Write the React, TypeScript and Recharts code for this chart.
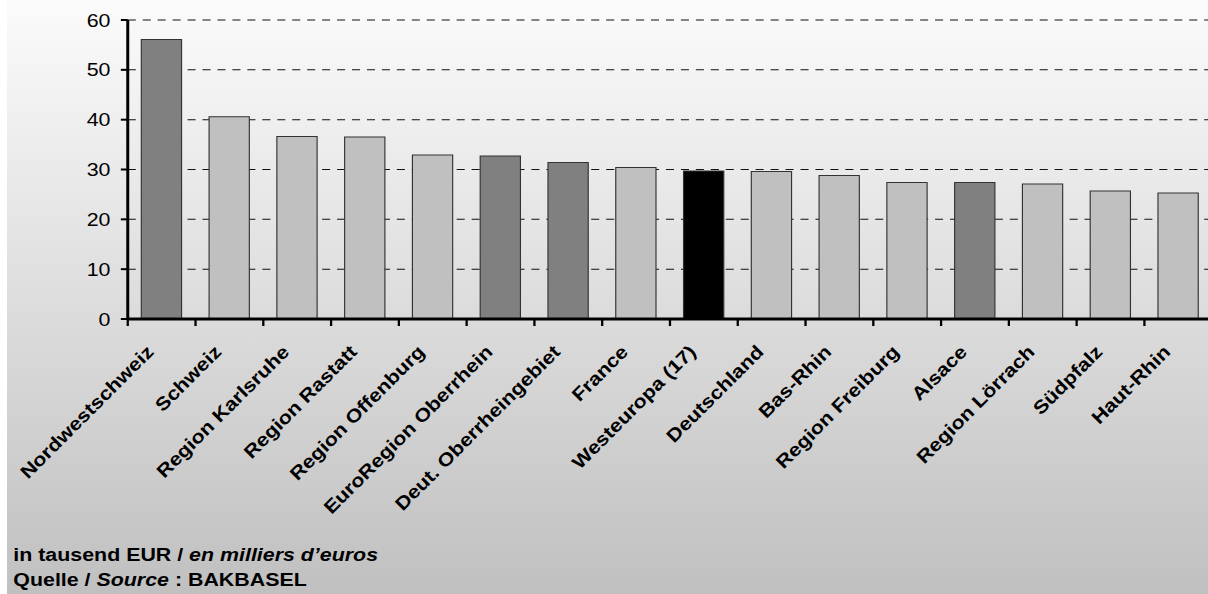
import { Bar, BarChart, CartesianGrid, Cell, XAxis, YAxis } from 'recharts';

const regions = [
  'Nordwestschweiz',
  'Schweiz',
  'Region Karlsruhe',
  'Region Rastatt',
  'Region Offenburg',
  'EuroRegion Oberrhein',
  'Deut. Oberrheingebiet',
  'France',
  'Westeuropa (17)',
  'Deutschland',
  'Bas-Rhin',
  'Region Freiburg',
  'Alsace',
  'Region Lörrach',
  'Südpfalz',
  'Haut-Rhin',
];

// in tausend EUR
const values = [
  56.1, 40.6, 36.6, 36.5, 32.9, 32.7, 31.4, 30.4, 29.7, 29.6, 28.8, 27.4, 27.4,
  27.1, 25.7, 25.3,
];

const aggregateRegions = [
  'Nordwestschweiz',
  'EuroRegion Oberrhein',
  'Deut. Oberrheingebiet',
  'Alsace',
];
const benchmarkRegion = 'Westeuropa (17)';

const yTicks = [0, 10, 20, 30, 40, 50, 60];

const FONT = 'Arial, "Liberation Sans", Helvetica, sans-serif';
const STRETCH = 1.15;
const CHART_W = 1048;
const CHART_H = 594;
const Y_AXIS_W = 105;
const TICK_LEN = 7;
const LABEL_GAP = 27;
const LABEL_SHIFT = -6;

// the whole chart is stretched horizontally; labels must end up at 45° on
// screen, widened along their own baseline
const C45 = Math.SQRT1_2;
const LABEL_MATRIX = [C45, -C45 * STRETCH, C45 / STRETCH, C45, 0, 0].join(' ');

const chartData = regions.map((name, i) => ({ name, value: values[i] }));

const barFill = (name: string) => {
  if (name === benchmarkRegion) return '#000000';
  if (aggregateRegions.includes(name)) return '#808080';
  return '#c0c0c0';
};

type TickProps = {
  x: number;
  y: number;
  payload: { value: string; offset?: number };
};

// category label rotated, with the tick mark on the boundary between bars
const RegionTick = ({ x, y, payload }: TickProps) => {
  const half =
    payload.offset && payload.offset > 0
      ? payload.offset
      : (CHART_W - Y_AXIS_W) / regions.length / 2;
  const axisY = y - TICK_LEN - LABEL_GAP;
  return (
    <g>
      <line
        x1={x - half}
        x2={x - half}
        y1={axisY}
        y2={axisY + TICK_LEN}
        stroke='#000'
        strokeWidth={2}
      />
      <g transform={`translate(${x + LABEL_SHIFT} ${y}) matrix(${LABEL_MATRIX})`}>
        <text
          x={0}
          y={0}
          textAnchor='end'
          fontFamily={FONT}
          fontSize={18.6}
          fontWeight='bold'
          fill='#000'
        >
          {payload.value}
        </text>
      </g>
    </g>
  );
};

export default function App() {
  return (
    <div
      style={{
        position: 'absolute',
        left: 0,
        top: 0,
        width: 1208,
        height: 594,
        overflow: 'hidden',
        background: '#fff',
      }}
    >
      <div
        style={{
          position: 'absolute',
          left: 7,
          top: 0,
          width: CHART_W,
          height: CHART_H,
          transform: `scaleX(${STRETCH})`,
          transformOrigin: '0 0',
          background: 'linear-gradient(#fbfbfb, #c0c0c0)',
        }}
      >
        <BarChart
          width={CHART_W}
          height={CHART_H}
          data={chartData}
          margin={{ top: 20, right: 0, bottom: 245, left: 0 }}
          barCategoryGap='20%'
        >
          <CartesianGrid
            vertical={false}
            strokeDasharray='7 6'
            stroke='#111'
            strokeWidth={1}
          />
          <XAxis
            dataKey='name'
            interval={0}
            height={30}
            tickLine={false}
            tickSize={TICK_LEN}
            tickMargin={LABEL_GAP}
            axisLine={{ stroke: '#000', strokeWidth: 3 }}
            tick={(props: TickProps) => <RegionTick {...props} />}
          />
          <YAxis
            width={Y_AXIS_W}
            domain={[0, 60]}
            ticks={yTicks}
            interval={0}
            tickSize={6}
            tickMargin={9}
            axisLine={{ stroke: '#000', strokeWidth: 2.6 }}
            tickLine={{ stroke: '#000', strokeWidth: 2 }}
            tick={{ fill: '#000', fontSize: 18.6, fontFamily: FONT }}
          />
          <Bar
            dataKey='value'
            stroke='#333'
            strokeWidth={1}
            isAnimationActive={false}
          >
            {chartData.map((d) => (
              <Cell key={d.name} fill={barFill(d.name)} />
            ))}
          </Bar>
        </BarChart>
        <svg
          width={CHART_W}
          height={CHART_H}
          style={{ position: 'absolute', left: 0, top: 0, pointerEvents: 'none' }}
        >
          <g fontFamily={FONT} fontSize={18.6} fontWeight='bold' fill='#000'>
            <text x={5.5} y={561}>
              in tausend EUR /{' '}
              <tspan fontStyle='italic'>en milliers d’euros</tspan>
            </text>
            <text x={5.5} y={586}>
              Quelle / <tspan fontStyle='italic'>Source</tspan> : BAKBASEL
            </text>
          </g>
        </svg>
      </div>
    </div>
  );
}
